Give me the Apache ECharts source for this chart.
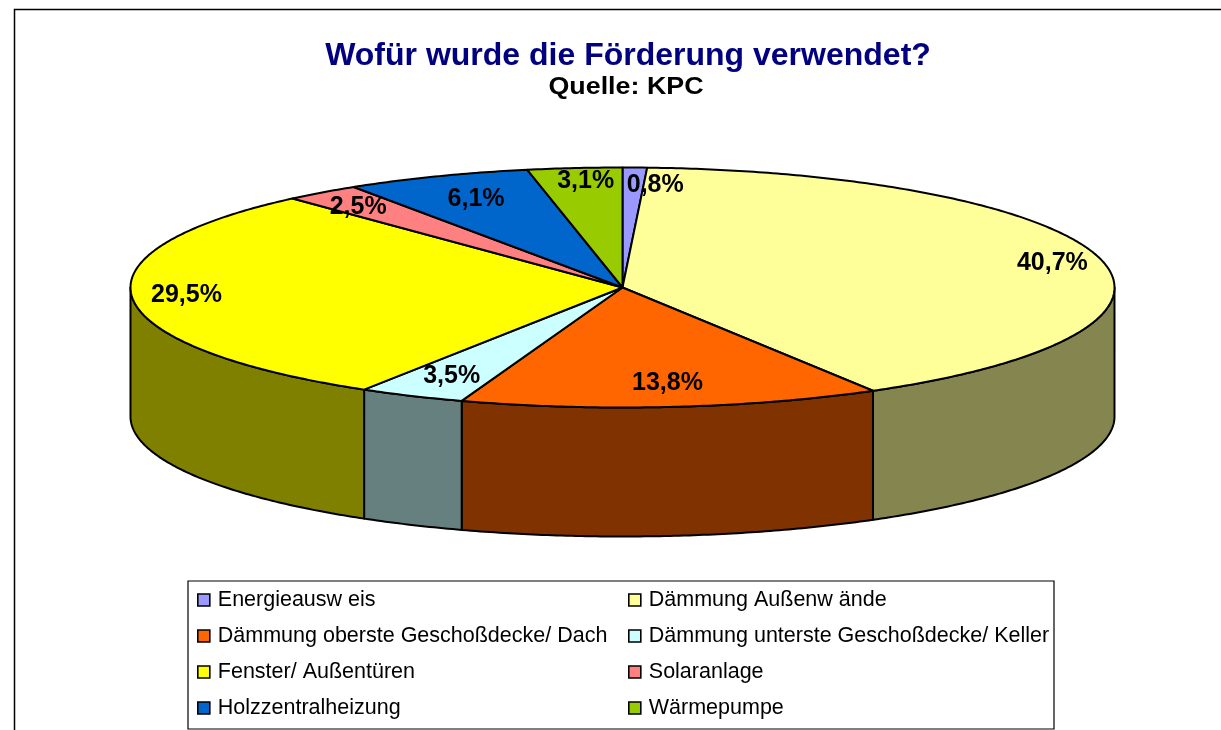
<!DOCTYPE html>
<html>
<head>
<meta charset="utf-8">
<style>
    html, body { margin: 0; padding: 0; background: #fff; }
    #chart { width: 1221px; height: 730px; }
</style>
<script src="https://cdn.jsdelivr.net/npm/echarts@6/dist/echarts.min.js"></script>
</head>
<body>
<div id="chart"></div>
<script>
var categories = [
    'Energieausw eis',
    'Dämmung Außenw ände',
    'Dämmung oberste Geschoßdecke/ Dach',
    'Dämmung unterste Geschoßdecke/ Keller',
    'Fenster/ Außentüren',
    'Solaranlage',
    'Holzzentralheizung',
    'Wärmepumpe'
];
var shares = [0.8, 40.7, 13.8, 3.5, 29.5, 2.5, 6.1, 3.1];

var topColors = ['#9999FF', '#FFFF99', '#FF6600', '#CCFFFF', '#FFFF00', '#FF8080', '#0066CC', '#99CC00'];
var sideColors = ['#4D4D80', '#858550', '#803300', '#668080', '#808000', '#804040', '#003366', '#4D6600'];

// where each label sits, as a fraction of the radius along the slice middle
var labelRadial = [[2.65, 0.86], [0.9, 0.9], [0.91, 0.79], [0.81, 0.81], [0.89, 0.65], [0.88, 0.86], [0.79, 0.8], [0.77, 0.9]];

var cx = 622.5, cy = 287.5, rx = 492, ry = 120, depth = 129;
var total = shares.reduce(function (a, b) { return a + b; }, 0);

function toAngle(share) {
    return share / total * Math.PI * 2;
}
function rimPoint(t, drop) {
    return [cx + rx * Math.sin(t), cy - ry * Math.cos(t) + (drop || 0)];
}
function arcPoints(from, to, drop) {
    var pts = [];
    var n = Math.max(2, Math.ceil((to - from) / 0.01));
    for (var i = 0; i <= n; i++) {
        pts.push(rimPoint(from + (to - from) * i / n, drop));
    }
    return pts;
}

function renderSlice(index, params, api) {
    var before = shares.slice(0, index).reduce(function (a, b) { return a + b; }, 0);
    var start = toAngle(before);
    var end = start + toAngle(api.value(0));
    var mid = (start + end) / 2;
    var line = { stroke: '#000', lineWidth: 2, lineJoin: 'round' };
    var children = [];

    // only the front half of the rim shows a wall
    var wallFrom = Math.max(start, Math.PI / 2);
    var wallTo = Math.min(end, Math.PI * 1.5);
    if (wallTo > wallFrom) {
        var upper = arcPoints(wallFrom, wallTo, 0);
        var lower = arcPoints(wallFrom, wallTo, depth).reverse();
        children.push({
            type: 'polygon',
            z2: 1,
            shape: { points: upper.concat(lower) },
            style: Object.assign({ fill: sideColors[index] }, line)
        });
    }
    children.push({
        type: 'polygon',
        z2: 2,
        shape: { points: [[cx, cy]].concat(arcPoints(start, end, 0)) },
        style: Object.assign({ fill: topColors[index] }, line)
    });
    children.push({
        type: 'text',
        z2: 10,
        style: {
            text: api.value(0).toFixed(1).replace('.', ',') + '%',
            x: cx + rx * labelRadial[index][0] * Math.sin(mid),
            y: cy + 1 - ry * labelRadial[index][1] * Math.cos(mid),
            align: 'center',
            verticalAlign: 'middle',
            font: 'bold 25px "Liberation Sans"',
            fill: '#000'
        }
    });
    return { type: 'group', children: children };
}

var chart = echarts.init(document.getElementById('chart'));
var legendBase = {
    orient: 'vertical',
    top: 584,
    itemWidth: 12,
    itemHeight: 12,
    itemGap: 14,
    icon: 'rect',
    selectedMode: false,
    itemStyle: { borderColor: '#000', borderWidth: 1.6 },
    textStyle: { fontFamily: 'Liberation Sans', fontSize: 21.5, color: '#000', padding: [0, 0, 4, 3] }
};

chart.setOption({
    animation: false,
    backgroundColor: '#fff',
    title: {
        text: 'Wofür wurde die Förderung verwendet?',
        left: 623,
        textAlign: 'center',
        top: 35,
        textStyle: { fontFamily: 'Liberation Sans', fontWeight: 'bold', fontSize: 32, color: '#000080' }
    },
    legend: [
        Object.assign({}, legendBase, { left: 192, data: categories.filter(function (c, i) { return i % 2 === 0; }) }),
        Object.assign({}, legendBase, { left: 623, data: categories.filter(function (c, i) { return i % 2 === 1; }) })
    ],
    graphic: [
        { type: 'rect', z: -1, shape: { x: 14.5, y: 9.5, width: 1300, height: 800 }, style: { fill: '#fff', stroke: '#000', lineWidth: 1.5 } },
        { type: 'rect', z: -1, shape: { x: 188, y: 581, width: 866, height: 148 }, style: { fill: '#fff', stroke: '#000', lineWidth: 1.2 } },
        {
            type: 'text',
            x: 626,
            y: 88,
            scaleX: 1.167,
            style: {
                text: 'Quelle: KPC',
                align: 'center',
                verticalAlign: 'middle',
                font: 'bold 23px "Liberation Sans"',
                fill: '#000'
            }
        }
    ],
    series: categories.map(function (name, i) {
        return {
            type: 'custom',
            name: name,
            coordinateSystem: 'none',
            itemStyle: { color: topColors[i] },
            data: [[shares[i]]],
            renderItem: function (params, api) { return renderSlice(i, params, api); }
        };
    })
});
window.addEventListener('resize', function () {
    chart.resize();
});
</script>
</body>
</html>
